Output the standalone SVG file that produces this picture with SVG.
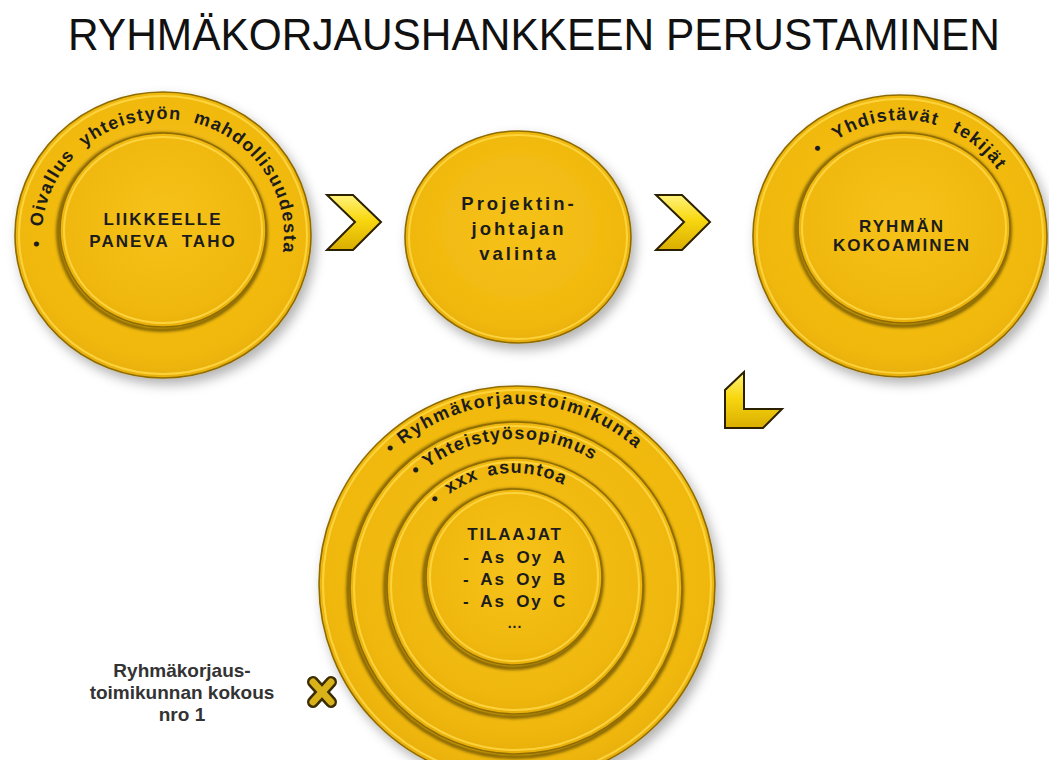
<svg xmlns="http://www.w3.org/2000/svg" width="1049" height="760" viewBox="0 0 1049 760">
  <style>
    .title { font-family: "Liberation Sans", Arial, sans-serif; font-size: 45px; fill: #111; }
    .lbl { font-family: "Liberation Sans", Arial, sans-serif; font-weight: bold; fill: #1c1c1c; text-anchor: middle; }
    .arc { font-family: "Liberation Sans", Arial, sans-serif; font-weight: bold; font-size: 18px; fill: #1c1c1c; }
    .note { font-family: "Liberation Sans", Arial, sans-serif; font-weight: bold; font-size: 19px; fill: #333; text-anchor: middle; }
    .disc { fill: url(#gold); stroke: #8f6c00; stroke-width: 1.6; }
    .glint { fill: none; stroke: #ffd845; stroke-width: 2; opacity: 0.85; }
    .rimshade { fill: none; stroke: #4e3a00; stroke-width: 3.5; opacity: 0.75; filter: url(#soft); }
    .chev { fill: url(#chevFill); stroke: #2b2100; stroke-width: 2; stroke-linejoin: miter; }
  </style>
  <defs>
    <radialGradient id="gold" cx="50%" cy="45%" r="60%">
      <stop offset="0" stop-color="#f6c21a"/>
      <stop offset="0.8" stop-color="#f0b80e"/>
      <stop offset="1" stop-color="#e3a907"/>
    </radialGradient>
    <linearGradient id="chevFill" x1="0" y1="0" x2="0" y2="1">
      <stop offset="0" stop-color="#fff27c"/>
      <stop offset="0.45" stop-color="#f8d810"/>
      <stop offset="1" stop-color="#d9ad00"/>
    </linearGradient>
    <filter id="shadow" x="-20%" y="-20%" width="140%" height="140%">
      <feDropShadow dx="4" dy="6" stdDeviation="6" flood-color="#000" flood-opacity="0.3"/>
    </filter>
    <filter id="soft" x="-10%" y="-10%" width="120%" height="120%">
      <feGaussianBlur stdDeviation="1.4"/>
    </filter>
    <!-- baseline paths for curved captions: start at the bottom, run clockwise -->
    <path id="arcStart" d="M163 353 A121 117 0 1 1 163 119 A121 117 0 1 1 163 353"/>
    <path id="arcGroup" d="M902 352 A116 116 0 1 1 902 120 A116 116 0 1 1 902 352"/>
    <path id="arcRing1" d="M517 764 A180 180 0 1 1 517 404 A180 180 0 1 1 517 764"/>
    <path id="arcRing2" d="M516 737 A149 149 0 1 1 516 439 A149 149 0 1 1 516 737"/>
    <path id="arcRing3" d="M514 691 A109 109 0 1 1 514 473 A109 109 0 1 1 514 691"/>
  </defs>

  <rect width="1049" height="760" fill="#fff"/>

  <text class="title" x="68" y="50" textLength="932" lengthAdjust="spacingAndGlyphs">RYHMÄKORJAUSHANKKEEN PERUSTAMINEN</text>

  <!-- step 1: initiator -->
  <g id="n-start">
    <ellipse class="disc" cx="163" cy="235" rx="148" ry="143" filter="url(#shadow)"/>
    <ellipse class="glint" cx="163" cy="235" rx="144" ry="139"/>
    <ellipse class="rimshade" cx="162" cy="232" rx="104" ry="98"/>
    <ellipse class="disc" cx="163" cy="230" rx="103" ry="97"/>
    <ellipse class="glint" cx="163" cy="230" rx="99" ry="93"/>
    <text class="arc" letter-spacing="1.3" word-spacing="6"><textPath href="#arcStart" startOffset="176">• Oivallus yhteistyön mahdollisuudesta</textPath></text>
    <text class="lbl" font-size="17" letter-spacing="2" x="163" y="225">LIIKKEELLE</text>
    <text class="lbl" font-size="17" letter-spacing="2" word-spacing="6" x="163" y="247">PANEVA TAHO</text>
  </g>

  <!-- step 2: project leader -->
  <g id="n-leader">
    <ellipse class="disc" cx="518" cy="237" rx="113" ry="106" filter="url(#shadow)"/>
    <ellipse class="glint" cx="518" cy="237" rx="109" ry="102"/>
    <text class="lbl" font-size="18.5" letter-spacing="3" x="519" y="210">Projektin-</text>
    <text class="lbl" font-size="18.5" letter-spacing="3" x="519" y="235">johtajan</text>
    <text class="lbl" font-size="18.5" letter-spacing="3" x="519" y="260">valinta</text>
  </g>

  <!-- step 3: forming the group -->
  <g id="n-group">
    <ellipse class="disc" cx="900" cy="236" rx="147" ry="141" filter="url(#shadow)"/>
    <ellipse class="glint" cx="900" cy="236" rx="143" ry="137"/>
    <ellipse class="rimshade" cx="903" cy="230" rx="107" ry="96"/>
    <ellipse class="disc" cx="904" cy="228" rx="106" ry="95"/>
    <ellipse class="glint" cx="904" cy="228" rx="102" ry="91"/>
    <text class="arc" letter-spacing="1.4" word-spacing="9"><textPath href="#arcGroup" startOffset="272">• Yhdistävät tekijät</textPath></text>
    <text class="lbl" font-size="17" letter-spacing="2" x="902" y="232">RYHMÄN</text>
    <text class="lbl" font-size="17" letter-spacing="2" x="902" y="251">KOKOAMINEN</text>
  </g>

  <!-- step 4: nested rings around the clients -->
  <g id="n-clients">
    <circle class="disc" cx="517" cy="584" r="198" filter="url(#shadow)"/>
    <circle class="glint" cx="517" cy="584" r="194"/>
    <circle class="rimshade" cx="515" cy="590" r="167"/>
    <circle class="disc" cx="516" cy="588" r="166"/>
    <circle class="glint" cx="516" cy="588" r="162"/>
    <circle class="rimshade" cx="514" cy="588" r="129"/>
    <circle class="disc" cx="515" cy="586" r="128"/>
    <circle class="glint" cx="515" cy="586" r="124"/>
    <circle class="rimshade" cx="513" cy="579" r="89"/>
    <circle class="disc" cx="514" cy="577" r="88"/>
    <circle class="glint" cx="514" cy="577" r="84"/>
    <text class="arc" letter-spacing="1.8"><textPath href="#arcRing1" startOffset="427">• Ryhmäkorjaustoimikunta</textPath></text>
    <text class="arc" letter-spacing="1.3"><textPath href="#arcRing2" startOffset="360">• Yhteistyösopimus</textPath></text>
    <text class="arc" letter-spacing="1.3" word-spacing="3"><textPath href="#arcRing3" startOffset="256">• xxx asuntoa</textPath></text>
    <text class="lbl" font-size="17" letter-spacing="1.8" x="515" y="540">TILAAJAT</text>
    <text class="lbl" font-size="17" letter-spacing="1.8" word-spacing="4" x="515" y="563">- As Oy A</text>
    <text class="lbl" font-size="17" letter-spacing="1.8" word-spacing="4" x="515" y="585">- As Oy B</text>
    <text class="lbl" font-size="17" letter-spacing="1.8" word-spacing="4" x="515" y="607">- As Oy C</text>
    <text class="lbl" font-size="14" letter-spacing="1" x="515" y="628">...</text>
  </g>

  <!-- committee meeting note with its marker -->
  <g id="n-meeting">
    <text class="note" x="182" y="677">Ryhmäkorjaus-</text>
    <text class="note" x="182" y="699">toimikunnan kokous</text>
    <text class="note" x="182" y="721">nro 1</text>
    <g stroke-linecap="round">
      <line x1="313" y1="682" x2="331" y2="702" stroke="#3a2d00" stroke-width="12"/>
      <line x1="331" y1="682" x2="313" y2="702" stroke="#3a2d00" stroke-width="12"/>
      <line x1="313" y1="682" x2="331" y2="702" stroke="#d9b21a" stroke-width="7"/>
      <line x1="331" y1="682" x2="313" y2="702" stroke="#d9b21a" stroke-width="7"/>
    </g>
  </g>

  <!-- flow arrows between the steps -->
  <g id="connectors">
    <polygon class="chev" points="327,195 353,195 381,222 353,250 327,250 355,222"/>
    <polygon class="chev" points="656,195 682,195 710,222 682,250 656,250 684,222"/>
    <polygon class="chev" points="744,372 725,390 725,428 763,428 782,409 744,409"/>
  </g>
</svg>
